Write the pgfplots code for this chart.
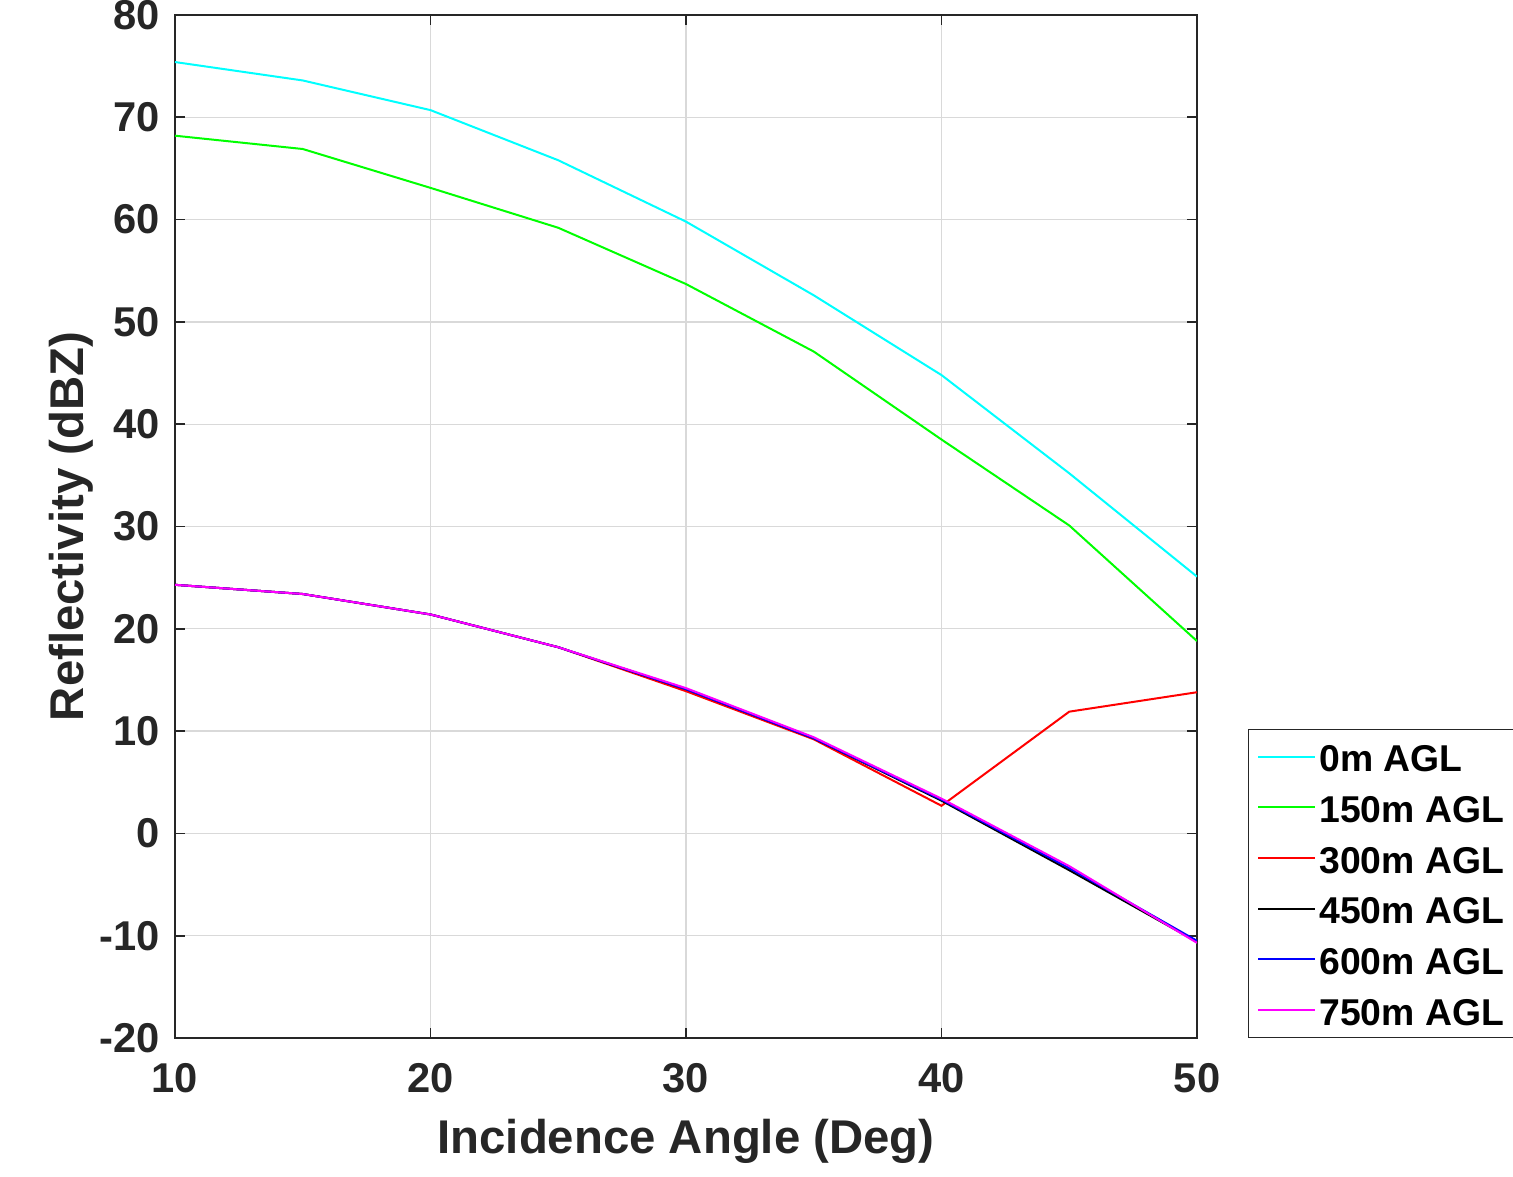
\documentclass[border=0pt]{standalone}
\usepackage{fontspec}
\setmainfont{Liberation Sans}
\usepackage{pgfplots}
\pgfplotsset{compat=1.18}
\definecolor{mcyan}{rgb}{0,1,1}
\definecolor{mgreen}{rgb}{0,1,0}
\definecolor{mred}{rgb}{1,0,0}
\definecolor{mblue}{rgb}{0,0,1}
\definecolor{mmagenta}{rgb}{1,0,1}
\begin{document}
\begin{tikzpicture}
\begin{axis}[
    scale only axis,
    width=306.6pt, height=306.9pt,
    xmin=10, xmax=50, ymin=-20, ymax=80,
    xtick={10,20,...,50},
    ytick={-20,-10,...,80},
    tick align=inside,
    tick pos=both,
    major tick length=3pt,
    every tick/.style={black!85, line width=0.5pt},
    axis line style={black!85, line width=0.6pt},
    grid=major,
    grid style={black!15, line width=0.4pt},
    /pgf/number format/assume math mode=true,
    ticklabel style={font=\fontsize{12.5}{14}\selectfont\bfseries, text=black!85},
    xticklabel style={yshift=-4pt},
    yticklabel style={xshift=-1pt},
    label style={font=\fontsize{14.2}{17}\selectfont\bfseries, text=black!85},
    xlabel={Incidence Angle (Deg)},
    ylabel={Reflectivity (dBZ)},
    xlabel style={yshift=-1pt},
    ylabel style={yshift=-5pt},
    legend style={at={(1.05,0)}, anchor=south west, draw=black!85,
        font=\fontsize{11.2}{13}\selectfont\bfseries, row sep=2.2pt,
        inner xsep=2.5pt, inner ysep=1.7pt,
        nodes={inner sep=1pt, text height=10pt, text depth=1pt}},
    legend cell align=left,
    legend image code/.code={\draw[#1] (0cm,0cm) -- (0.6cm,0cm);},
    every axis plot/.append style={line width=0.6pt},
]
\addplot[mcyan] coordinates {
    (10,75.4) (15,73.6) (20,70.7) (25,65.8) (30,59.8) (35,52.6) (40,44.8) (45,35.2) (50,25.1)};
\addplot[mgreen] coordinates {
    (10,68.2) (15,66.9) (20,63.1) (25,59.2) (30,53.7) (35,47.1) (40,38.5) (45,30.1) (50,18.8)};
\addplot[mred] coordinates {
    (10,24.3) (15,23.4) (20,21.4) (25,18.2) (30,13.9) (35,9.2) (40,2.7) (45,11.9) (50,13.8)};
\addplot[black] coordinates {
    (10,24.3) (15,23.4) (20,21.4) (25,18.2) (30,14.1) (35,9.3) (40,3.2) (45,-3.6) (50,-10.6)};
\addplot[mblue] coordinates {
    (10,24.3) (15,23.4) (20,21.4) (25,18.2) (30,14.1) (35,9.3) (40,3.3) (45,-3.4) (50,-10.5)};
\addplot[mmagenta] coordinates {
    (10,24.3) (15,23.4) (20,21.4) (25,18.2) (30,14.2) (35,9.4) (40,3.4) (45,-3.2) (50,-10.7)};
\legend{0m AGL, 150m AGL, 300m AGL, 450m AGL, 600m AGL, 750m AGL}
\coordinate (sw) at (rel axis cs:0,0);
\coordinate (ne) at (rel axis cs:1,1);
\end{axis}
\pgfresetboundingbox
\path ([xshift=-52.5pt, yshift=-41.4pt]sw) rectangle ([xshift=94.8pt, yshift=4.5pt]ne);
\end{tikzpicture}
\end{document}
